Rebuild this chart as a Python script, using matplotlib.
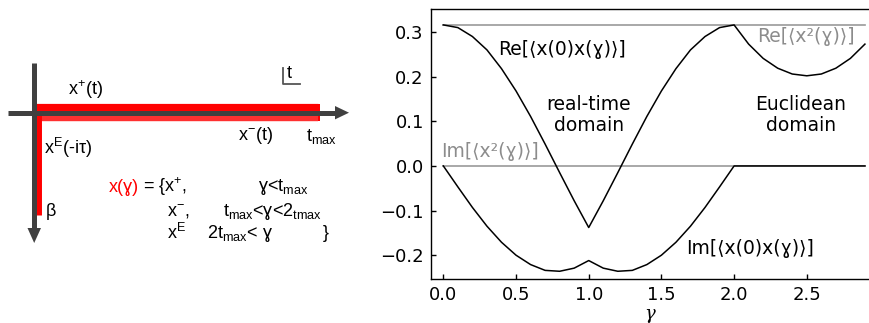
import numpy as np
import matplotlib.pyplot as plt

plt.rcParams['mathtext.fontset'] = 'custom'
plt.rcParams['mathtext.rm'] = 'Liberation Sans'
plt.rcParams['mathtext.it'] = 'Liberation Sans:italic'

# gamma grid and correlators
gamma = [0.0, 0.1, 0.2, 0.3, 0.4, 0.5, 0.6, 0.7, 0.8, 0.9,
         1.0, 1.1, 1.2, 1.3, 1.4, 1.5, 1.6, 1.7, 1.8, 1.9,
         2.0, 2.1, 2.2, 2.3, 2.4, 2.5, 2.6, 2.7, 2.8, 2.9]
re_corr = [0.316, 0.310, 0.290, 0.260, 0.218, 0.168, 0.111, 0.049, -0.015, -0.078,
           -0.138, -0.078, -0.015, 0.049, 0.111, 0.168, 0.218, 0.260, 0.290, 0.310,
           0.316, 0.273, 0.241, 0.219, 0.206, 0.202, 0.206, 0.219, 0.241, 0.273]
im_corr = [0.0, -0.047, -0.093, -0.135, -0.171, -0.200, -0.221, -0.234, -0.236, -0.229,
           -0.212, -0.229, -0.236, -0.234, -0.221, -0.200, -0.171, -0.135, -0.093, -0.047,
           0.0, 0.0, 0.0, 0.0, 0.0, 0.0, 0.0, 0.0, 0.0, 0.0]
re_x2 = 0.316
im_x2 = 0.0

yticks = [-0.2, -0.1, 0.0, 0.1, 0.2, 0.3]
xticks = [0.0, 0.5, 1.0, 1.5, 2.0, 2.5]

fig = plt.figure(figsize=(8.69, 3.23), dpi=100)

# ------------------------------------------------------------------
# left: contour sketch (pixel-like coordinates)
# ------------------------------------------------------------------
W, H = 391, 323
ax0 = fig.add_axes([0, 0, W / 869, 1])
ax0.set_xlim(0, W)
ax0.set_ylim(H, 0)
ax0.axis('off')

red = '#ff0000'
dark = '#404040'
ax0.plot([35, 318], [106.5, 106.5], color=red, lw=5.2, solid_capstyle='butt')
ax0.plot([38, 318], [118.3, 118.3], color='#ff3030', lw=4.6, solid_capstyle='butt')
ax0.plot([37.5, 37.5], [112, 215], color=red, lw=5, solid_capstyle='butt')
ax0.plot([8, 337], [112.7, 112.7], color=dark, lw=3.6, solid_capstyle='butt')
ax0.fill([335, 349, 335], [106, 112.7, 119.4], color=dark, lw=0)
ax0.plot([34.2, 34.2], [63, 230], color=dark, lw=3.6, solid_capstyle='butt')
ax0.fill([27.5, 34.2, 41], [228, 243, 228], color=dark, lw=0)
ax0.fill([303, 320, 320, 303], [103.5, 103.5, 121, 121], color=red, lw=0)

# small "L t" marker
ax0.plot([283, 283, 300], [68, 84.3, 84.3], color='#555555', lw=1.3)

fs = 13
tk = dict(family=['Liberation Sans', 'DejaVu Sans'], fontsize=fs, va='center', ha='left')
ax0.text(287, 73, 't', **tk)
ax0.text(68, 90, 'x$^{+}$(t)', **tk)
ax0.text(238, 135, 'x$^{-}$(t)', **tk)
ax0.text(306, 136, 't$_{\\mathrm{max}}$', **tk)
ax0.text(44, 148, 'x$^{\\mathrm{E}}$(-iτ)', **tk)
ax0.text(46, 212, 'β', **tk)
ax0.text(109, 187, 'x(ɣ)', color=red, **tk)
ax0.text(143, 187, '= {x$^{+}$,', **tk)
ax0.text(258, 187, 'ɣ<t$_{\\mathrm{max}}$', **tk)
ax0.text(167, 212, 'x$^{-}$,', **tk)
ax0.text(223, 212, 't$_{\\mathrm{max}}$<ɣ<2$_{\\mathrm{tmax}}$', **tk)
ax0.text(167, 233, 'x$^{\\mathrm{E}}$', **tk)
ax0.text(207, 233, '2t$_{\\mathrm{max}}$< ɣ', **tk)
ax0.text(323, 233, '}', **tk)

# ------------------------------------------------------------------
# right: correlators along the contour
# ------------------------------------------------------------------
ax = fig.add_axes([430.7 / 869, 1 - 279.3 / 323, 1 - 430.7 / 869, (279.3 - 9.3) / 323])
gray = '#999999'
ax.plot([gamma[0], gamma[-1]], [re_x2, re_x2], color=gray, lw=1.2)
ax.plot([gamma[0], gamma[-1]], [im_x2, im_x2], color=gray, lw=1.2)
ax.plot(gamma, re_corr, color='black', lw=1.1)
ax.plot(gamma, im_corr, color='black', lw=1.1)

ax.set_xlim(-0.087, 2.928)
ax.set_ylim(-0.254, 0.351)
ax.set_xticks(xticks)
ax.set_yticks(yticks)
ax.set_xticklabels([f'{v:.1f}' for v in xticks])
ax.set_yticklabels([f'{v:.1f}'.replace('-', '\u2212') for v in yticks])
ax.tick_params(direction='in', length=3.5, width=1, labelsize=13)
ax.tick_params(axis='y', pad=5)
ax.tick_params(axis='x', pad=5)
ax.spines['right'].set_visible(False)
for s in ('left', 'bottom', 'top'):
    ax.spines[s].set_linewidth(1.0)
ax.set_xlabel('γ', family='DejaVu Serif', style='italic', fontsize=13, labelpad=0.5)

lk = dict(fontsize=13.5, va='center', ha='left')
ax.text(0.376, 0.26, 'Re[⟨x(0)x(ɣ)⟩]', **lk)
ax.text(1.67, -0.185, 'Im[⟨x(0)x(ɣ)⟩]', **lk)
ax.text(2.156, 0.29, 'Re[⟨x²(ɣ)⟩]', color='#8c8c8c', **lk)
ax.text(-0.016, 0.032, 'Im[⟨x²(ɣ)⟩]', color='#8c8c8c', **lk)
ax.text(1.0, 0.114, 'real-time\ndomain', fontsize=13.5, ha='center', va='center',
        linespacing=1.1)
ax.text(2.458, 0.114, 'Euclidean\ndomain', fontsize=13.5, ha='center', va='center',
        linespacing=1.1)

fig.savefig('out.png', dpi=100)
